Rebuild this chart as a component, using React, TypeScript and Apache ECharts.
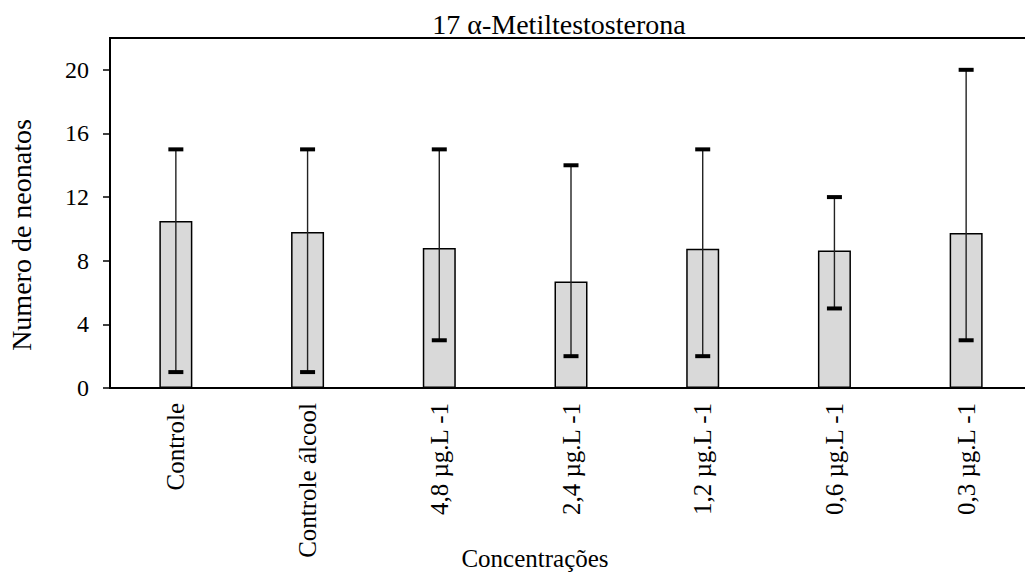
import React, { useEffect, useRef } from "react";
import * as echarts from "echarts";

const categories = [
  "Controle",
  "Controle álcool",
  "4,8 µg.L -1",
  "2,4 µg.L -1",
  "1,2 µg.L -1",
  "0,6 µg.L -1",
  "0,3 µg.L -1",
];
const means = [10.5, 9.8, 8.8, 6.7, 8.75, 8.65, 9.75];
const lows = [1, 1, 3, 2, 2, 5, 3];
const highs = [15, 15, 15, 14, 15, 12, 20];
const yTicks = [0, 4, 8, 12, 16, 20];

const FONT = "'Times New Roman', 'Liberation Serif', serif";

export default function App() {
  const ref = useRef<HTMLDivElement>(null);
  useEffect(() => {
    if (!ref.current) return;
    const chart = echarts.init(ref.current, undefined, { renderer: "svg" });
    const errData = categories.map((_, i) => [i, lows[i], highs[i]]);
    chart.setOption({
      animation: false,
      backgroundColor: "#ffffff",
      grid: {
        left: 110,
        top: 38,
        width: 922,
        height: 350,
        show: true,
        borderColor: "#000",
        borderWidth: 2,
        backgroundColor: "transparent",
      },
      graphic: [
        {
          type: "text",
          x: 559,
          y: 24,
          style: {
            text: "17 α-Metiltestosterona",
            fontFamily: FONT,
            fontSize: 28,
            fill: "#000",
            align: "center",
            verticalAlign: "middle",
          },
        },
        {
          type: "text",
          x: 21,
          y: 235,
          rotation: Math.PI / 2,
          style: {
            text: "Numero de neonatos",
            fontFamily: FONT,
            fontSize: 28,
            fill: "#000",
            align: "center",
            verticalAlign: "middle",
          },
        },
        {
          type: "text",
          x: 535,
          y: 558,
          style: {
            text: "Concentrações",
            fontFamily: FONT,
            fontSize: 25,
            fill: "#000",
            align: "center",
            verticalAlign: "middle",
          },
        },
      ],
      xAxis: {
        type: "category",
        data: categories,
        axisLine: { show: true, lineStyle: { color: "#000", width: 2 } },
        axisTick: { show: false },
        axisLabel: {
          rotate: 90,
          margin: 15,
          interval: 0,
          fontFamily: FONT,
          fontSize: 25,
          color: "#000",
        },
        splitLine: { show: false },
      },
      yAxis: {
        type: "value",
        min: 0,
        max: 22,
        interval: 4,
        axisLine: { show: true, lineStyle: { color: "#000", width: 2 } },
        axisTick: {
          show: true,
          inside: false,
          length: 7,
          lineStyle: { color: "#000", width: 1.5 },
          customValues: yTicks,
        },
        axisLabel: {
          margin: 21,
          fontFamily: FONT,
          fontSize: 24,
          color: "#000",
          customValues: yTicks,
        },
        splitLine: { show: false },
      },
      series: [
        {
          type: "bar",
          data: means,
          barWidth: 33,
          itemStyle: { color: "#d9d9d9", borderColor: "#000", borderWidth: 1.5 },
          z: 2,
        },
        {
          type: "custom",
          data: errData,
          z: 3,
          renderItem: (params: any, api: any) => {
            const x = api.value(0);
            const lo = api.coord([x, api.value(1)]);
            const hi = api.coord([x, api.value(2)]);
            const hw = 7.5;
            return {
              type: "group",
              children: [
                {
                  type: "line",
                  shape: { x1: lo[0], y1: lo[1], x2: hi[0], y2: hi[1] },
                  style: { stroke: "#222", lineWidth: 1.4 },
                },
                {
                  type: "line",
                  shape: { x1: lo[0] - hw, y1: lo[1], x2: lo[0] + hw, y2: lo[1] },
                  style: { stroke: "#000", lineWidth: 4 },
                },
                {
                  type: "line",
                  shape: { x1: hi[0] - hw, y1: hi[1], x2: hi[0] + hw, y2: hi[1] },
                  style: { stroke: "#000", lineWidth: 4 },
                },
              ],
            };
          },
        },
      ],
    });
    return () => chart.dispose();
  }, []);
  return (
    <div
      style={{
        position: "absolute",
        left: 0,
        top: 0,
        width: 1025,
        height: 574,
        overflow: "hidden",
        background: "#fff",
      }}
    >
      <div ref={ref} style={{ width: 1045, height: 574 }} />
    </div>
  );
}
